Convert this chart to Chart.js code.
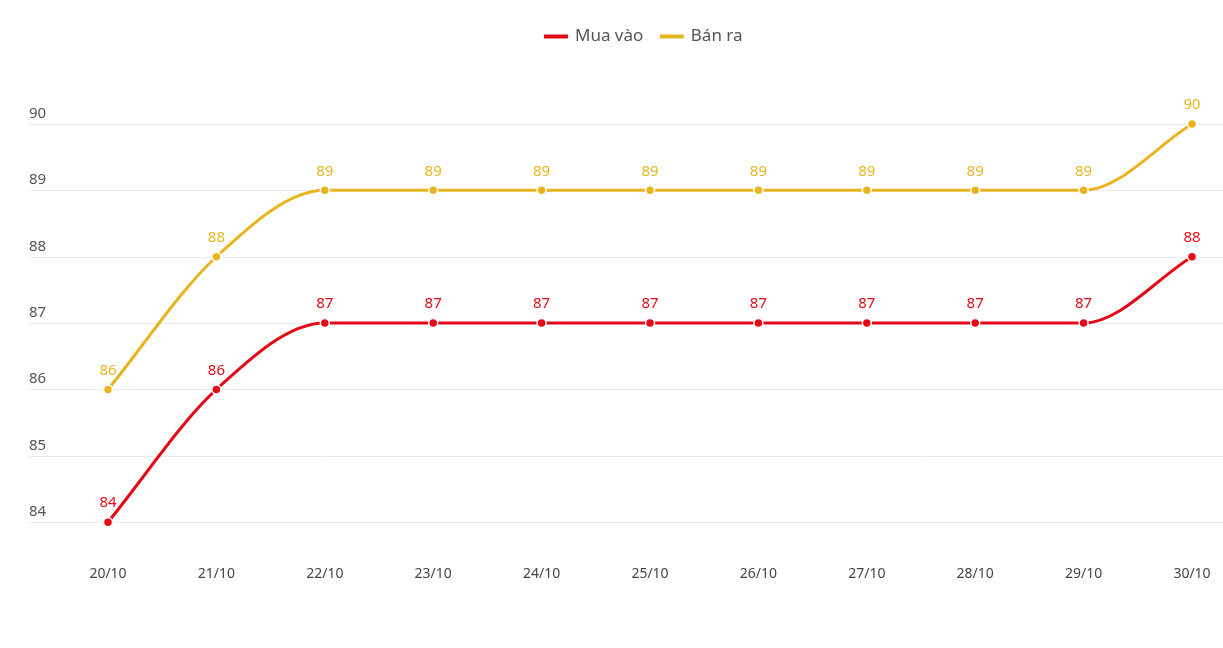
<!DOCTYPE html>
<html>
<head>
<meta charset="utf-8">
<script src="https://cdn.jsdelivr.net/npm/chart.js@4"></script>
<style>
  html, body { margin: 0; padding: 0; background: #fff; }
  #wrap { width: 1223px; height: 648px; }
</style>
</head>
<body>
<div id="wrap"><canvas id="myChart" width="1223" height="648"></canvas></div>
<script>
const days = ["20/10", "21/10", "22/10", "23/10", "24/10", "25/10", "26/10", "27/10", "28/10", "29/10", "30/10"];
const muaVao = [84, 86, 87, 87, 87, 87, 87, 87, 87, 87, 88];
const banRa = [86, 88, 89, 89, 89, 89, 89, 89, 89, 89, 90];
const yTicks = [84, 85, 86, 87, 88, 89, 90];

const RED = "#e30b17";
const YELLOW = "#e8b520";
const FONT = "'Noto Sans', 'Open Sans', sans-serif";

// horizontal grid + y labels sitting above each line
const gridPlugin = {
  id: "gridLines",
  beforeDatasetsDraw(chart) {
    const ctx = chart.ctx;
    const y = chart.scales.y;
    ctx.save();
    ctx.strokeStyle = "#ebebeb";
    ctx.lineWidth = 1;
    ctx.fillStyle = "#555";
    ctx.font = "15px " + FONT;
    ctx.textAlign = "left";
    ctx.textBaseline = "middle";
    yTicks.forEach((v) => {
      const py = Math.round(y.getPixelForValue(v)) + 0.5;
      ctx.beginPath();
      ctx.moveTo(29, py);
      ctx.lineTo(chart.width, py);
      ctx.stroke();
      ctx.fillText(String(v), 29, py - 11);
    });
    ctx.restore();
  },
};

// value labels above the points
const valueLabels = {
  id: "valueLabels",
  afterDatasetsDraw(chart) {
    const ctx = chart.ctx;
    ctx.save();
    ctx.font = "15px " + FONT;
    ctx.textAlign = "center";
    ctx.textBaseline = "middle";
    chart.data.datasets.forEach((ds, i) => {
      const meta = chart.getDatasetMeta(i);
      ctx.fillStyle = ds.borderColor;
      meta.data.forEach((pt, j) => {
        ctx.fillText(String(ds.data[j]), pt.x, pt.y - 19);
      });
    });
    ctx.restore();
  },
};

// extra room under the legend, and centre it where the original has it
const legendGap = {
  id: "legendGap",
  beforeInit(chart) {
    const fit = chart.legend.fit;
    chart.legend.fit = function () {
      fit.bind(chart.legend)();
      this.height += 69;
    };
  },
  afterLayout(chart) {
    chart.legend.left = 65;
    chart.legend.right = chart.width;
  },
};

const ctx = document.getElementById("myChart").getContext("2d");
window.chart = new Chart(ctx, {
  type: "line",
  data: {
    labels: days,
    datasets: [
      {
        label: "Mua vào",
        data: muaVao,
        borderColor: RED,
        backgroundColor: RED,
        borderWidth: 3,
        pointRadius: 4.5,
        pointBorderWidth: 1.5,
        pointBorderColor: "#fff",
        pointBackgroundColor: RED,
        cubicInterpolationMode: "monotone",
        clip: false,
      },
      {
        label: "Bán ra",
        data: banRa,
        borderColor: YELLOW,
        backgroundColor: YELLOW,
        borderWidth: 3,
        pointRadius: 4.5,
        pointBorderWidth: 1.5,
        pointBorderColor: "#fff",
        pointBackgroundColor: YELLOW,
        cubicInterpolationMode: "monotone",
        clip: false,
      },
    ],
  },
  options: {
    responsive: false,
    animation: false,
    layout: { padding: { left: 108, right: 31, top: 10, bottom: 31 } },
    plugins: {
      tooltip: { enabled: false },
      legend: {
        position: "top",
        labels: {
          color: "#555",
          font: { family: FONT, size: 17 },
          boxWidth: 21,
          boxHeight: 1,
          padding: 18,
        },
      },
    },
    scales: {
      x: {
        offset: false,
        grid: { display: false },
        border: { display: false },
        ticks: { color: "#444", font: { family: FONT, size: 14 }, padding: 35, maxRotation: 0 },
        afterFit(scale) {
          scale.paddingLeft = 0;
          scale.paddingRight = 0;
        },
      },
      y: {
        display: false,
        min: 84,
        max: 90,
      },
    },
  },
  plugins: [gridPlugin, valueLabels, legendGap],
});
</script>
</body>
</html>
